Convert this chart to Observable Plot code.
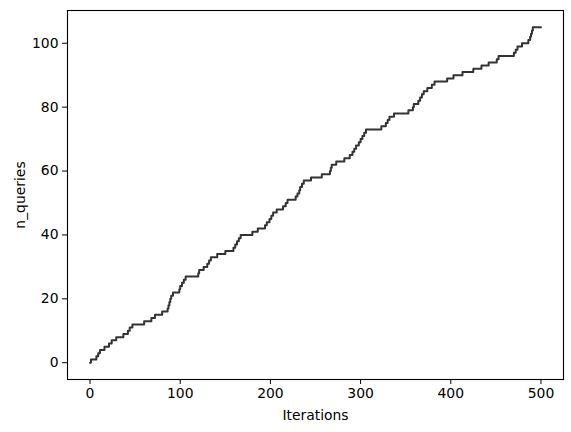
<!DOCTYPE html>
<html><head><meta charset="utf-8">
<script src="https://cdn.jsdelivr.net/npm/d3@7"></script>
<script src="https://cdn.jsdelivr.net/npm/@observablehq/plot@0.6"></script>
<style>body{margin:0;background:#fff}</style>
</head><body><div id="chart"></div>
<script>
// Iteration at which n_queries first reaches each value (step function)
const stepIterations = [0,1,7,9,11,16,21,24,29,37,42,44,47,60,68,72,80,86,87,88,89,90,92,99,100,102,104,106,120,121,126,130,132,134,141,150,159,161,163,165,167,180,186,194,196,199,201,203,207,214,217,219,228,230,232,233,235,237,245,257,266,267,268,273,282,288,291,293,295,298,300,302,304,306,323,328,330,332,337,353,358,359,364,366,368,370,374,379,382,396,403,413,425,434,442,451,453,470,472,474,479,486,488,489,490,491,500];
const stepValues = [0,1,2,3,4,5,6,7,8,9,10,11,12,13,14,15,16,17,18,19,20,21,22,23,24,25,26,27,28,29,30,31,32,33,34,35,36,37,38,39,40,41,42,43,44,45,46,47,48,49,50,51,52,53,54,55,56,57,58,59,60,61,62,63,64,65,66,67,68,69,70,71,72,73,74,75,76,77,78,79,80,81,82,83,84,85,86,87,88,89,90,91,92,93,94,95,96,97,98,99,100,101,102,103,104,105,105];
const xTicks = [0,100,200,300,400,500];
const yTicks = [0,20,40,60,80,100];

const data = stepIterations.map((x, i) => ({iteration: x, n_queries: stepValues[i]}));

const chart = Plot.plot({
  width: 571, height: 432,
  marginLeft: 67, marginRight: 8, marginTop: 10, marginBottom: 53,
  style: {fontFamily: "DejaVu Sans", fontSize: "13.9px", color: "#000", background: "#fff"},
  x: {domain: [-25, 525]},
  y: {domain: [-5.25, 110.25]},
  marks: [
    Plot.line(data, {x: "iteration", y: "n_queries", curve: "step-after", stroke: "#333", strokeWidth: 2}),
    Plot.frame({stroke: "#000", strokeWidth: 1.1}),
    Plot.axisX({ticks: xTicks, tickSize: 5, tickPadding: 4, label: "Iterations", labelAnchor: "center", labelArrow: "none", labelOffset: 40, fontSize: "13.9px"}),
    Plot.axisY({ticks: yTicks, tickSize: 5, tickPadding: 4, label: "n_queries", labelAnchor: "center", labelArrow: "none", labelOffset: 52, fontSize: "13.9px"})
  ]
});
document.getElementById("chart").appendChild(chart);
</script>
</body></html>
